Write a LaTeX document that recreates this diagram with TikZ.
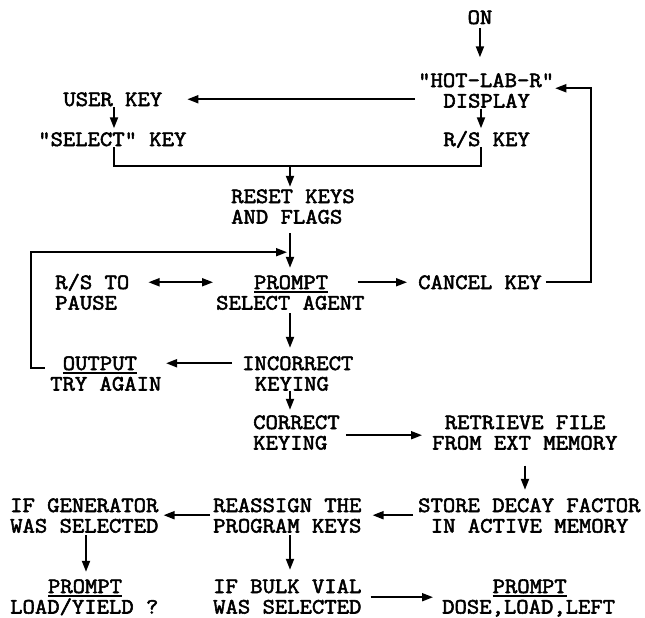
\documentclass[tikz,border=0pt]{standalone}
\usepackage{fontspec}
\setmonofont[FakeStretch=1.10,FakeBold=2.5]{Latin Modern Mono}
\usetikzlibrary{arrows.meta,calc}
\newsavebox\ovbox
\newcommand\ovr[1]{\sbox\ovbox{#1}\rlap{\rule[-3.9pt]{\wd\ovbox}{1.5pt}}\usebox\ovbox}
\begin{document}
\begin{tikzpicture}[x=1pt,y=-1pt,
  txt/.style={inner sep=0pt,anchor=base west,text height=13.5pt,text depth=0pt,
    font=\ttfamily\fontsize{21.8pt}{20.5pt}\selectfont},
  arr/.style={line width=1.9pt,-{Triangle[length=11pt,width=8pt]}},
  dbl/.style={line width=1.9pt,{Triangle[length=11pt,width=8pt]}-{Triangle[length=11pt,width=8pt]}},
  ln/.style={line width=1.9pt}]
\useasboundingbox (0,0) rectangle (645,618);
\node[txt] (on) at (467.4,24) {ON};
\node[txt] (hot1) at (418,87) {"HOT-LAB-R"};
\node[txt] (hot2) at (443.2,107.5) {DISPLAY};
\node[txt] (rs) at (443.2,146) {R/S KEY};
\node[txt] (user) at (63.2,106) {USER KEY};
\node[txt] (sel) at (38,146) {"SELECT" KEY};
\node[txt] (reset1) at (231,203) {RESET KEYS};
\node[txt] (reset2) at (231,223.5) {AND FLAGS};
\node[txt] (pause1) at (55,289) {R/S TO};
\node[txt] (pause2) at (55,309.5) {PAUSE};
\node[txt] (prompt1) at (253.8,289) {\ovr{PROMPT}};
\node[txt] (prompt2) at (216,309.5) {SELECT AGENT};
\node[txt] (cancel) at (418,289) {CANCEL KEY};
\node[txt] (out1) at (62.6,370) {\ovr{OUTPUT}};
\node[txt] (out2) at (50,390.5) {TRY AGAIN};
\node[txt] (inc1) at (242,370) {INCORRECT};
\node[txt] (inc2) at (254.6,390.5) {KEYING};
\node[txt] (cor1) at (253,429) {CORRECT};
\node[txt] (cor2) at (253,449.5) {KEYING};
\node[txt] (ret1) at (444.6,429) {RETRIEVE FILE};
\node[txt] (ret2) at (432,449.5) {FROM EXT MEMORY};
\node[txt] (sto1) at (418,512) {STORE DECAY FACTOR};
\node[txt] (sto2) at (430.6,532.5) {IN ACTIVE MEMORY};
\node[txt] (rea1) at (213,512) {REASSIGN THE};
\node[txt] (rea2) at (213,532.5) {PROGRAM KEYS};
\node[txt] (gen1) at (10,512) {IF GENERATOR};
\node[txt] (gen2) at (10,532.5) {WAS SELECTED};
\node[txt] (pg1) at (47.8,593) {\ovr{PROMPT}};
\node[txt] (pg2) at (10,613.5) {LOAD/YIELD ?};
\node[txt] (bulk1) at (213,593) {IF BULK VIAL};
\node[txt] (bulk2) at (213,613.5) {WAS SELECTED};
\node[txt] (pd1) at (492.4,593) {\ovr{PROMPT}};
\node[txt] (pd2) at (442,613.5) {DOSE,LOAD,LEFT};
% connectors
\draw[arr] ($(on.south)+(0,4)$) -- ($(on.south |- hot1.north)+(0,-16)$);
\draw[arr] ($(user.east -| hot2.west)+(-28,0)$) -- ($(user.east)+(25,0)$);
\draw[arr] ($(hot2.south west)+(37.8,1)$) -- ($(rs.north west)+(37.8,-4)$);
\draw[arr] ($(user.south west)+(50.8,1)$) -- ($(sel.north west)+(76,-4)$);
\draw[ln] ($(sel.south west)+(76,1)$) |- ($(rs.south west)+(37.8,20)$) -- ($(rs.south west)+(37.8,1)$);
\draw[arr] ($(reset1.north west)+(59,-23.5)$) -- ($(reset1.north west)+(59,-2.5)$);
\draw[arr] ($(reset2.south west)+(59,9.5)$) -- ($(prompt1.north west)+(36.2,-7.5)$);
\draw[arr] ($(out1.south west)+(-18,-2)$) -| ($(reset2.south west)+(-200,28.5)$) -- ($(reset2.south west)+(56,28.5)$);
\draw[dbl] ($(pause1.east)+(19,0)$) -- ($(prompt2.west |- pause1.east)+(-3,0)$);
\draw[arr] ($(prompt2.east |- prompt1.east)+(-7,0)$) -- ($(cancel.west)+(-11,0)$);
\draw[arr] ($(cancel.east)+(4,0)$) -| ($(hot1.east)+(37,8)$) -- ($(hot1.east)+(1,8)$);
\draw[arr] ($(prompt2.south west)+(74,3.5)$) -- ($(inc1.north west)+(48,-8.5)$);
\draw[arr] ($(inc1.west)+(-10,0)$) -- ($(out1.east)+(29,0)$);
\draw[arr] ($(inc2.south west)+(35.4,0)$) -- ($(cor1.north west)+(37,-5.5)$);
\draw[arr] ($(cor1.south east)+(6,6)$) -- ($(ret2.north west |- cor1.south east)+(-10,6)$);
\draw[arr] ($(ret2.south west)+(93,16)$) -- ($(sto1.north west)+(107,-8.5)$);
\draw[arr] ($(sto1.south west)+(-5,3)$) -- ($(rea1.south east)+(11,3)$);
\draw[arr] ($(rea1.south west)+(-3,3)$) -- ($(gen1.south east)+(5,3)$);
\draw[arr] ($(gen2.south west)+(76,2.5)$) -- ($(pg1.north west)+(38.2,-7.5)$);
\draw[arr] ($(rea2.south west)+(77,2.5)$) -- ($(bulk1.north west)+(77,-9.5)$);
\draw[arr] ($(bulk1.south east)+(9,4)$) -- ($(pd2.north west |- bulk1.south east)+(-9,4)$);
\end{tikzpicture}
\end{document}
